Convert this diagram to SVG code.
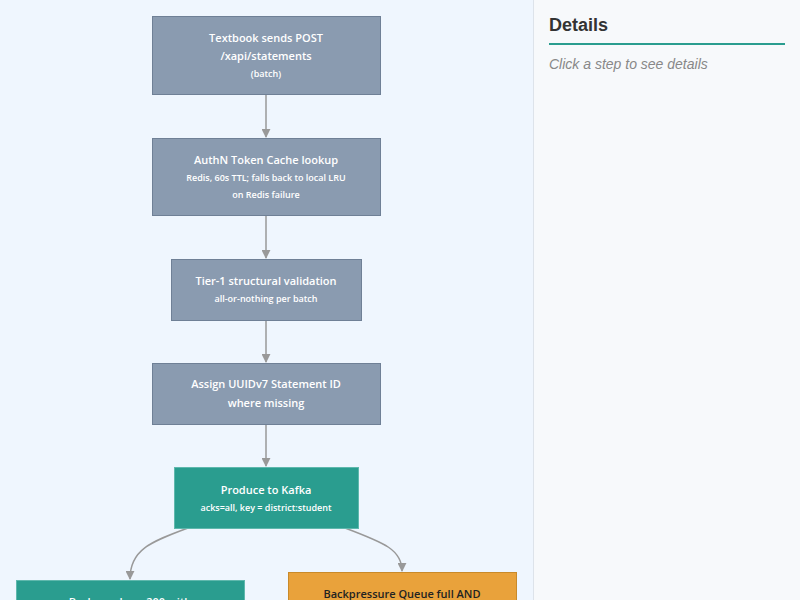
<svg xmlns="http://www.w3.org/2000/svg" width="800" height="600" viewBox="0 0 800 600">
<defs>
<style>
.n rect{stroke-width:1}
.g rect{fill:#8a9bb0;stroke:#6f8096}
.t rect{fill:#2a9d8f;stroke:#5fb8ad}
.o rect{fill:#e9a23b;stroke:#c98a2a}
text{font-family:"Open Sans","DejaVu Sans",sans-serif;text-anchor:middle}
.n text{font-weight:600}
.g text,.t text{fill:#ffffff}
.o text{fill:#222222}
.h{font-size:11px}
.s{font-size:9px}
.e path{fill:none;stroke:#999999;stroke-width:1.5}
</style>
<marker id="ah" viewBox="0 0 10 10" refX="9" refY="5" markerWidth="6" markerHeight="6" orient="auto-start-reverse">
<path d="M0,0 L10,5 L0,10 z" fill="#999999"/>
</marker>
</defs>
<rect x="0" y="0" width="533" height="600" fill="#eff6fe"/>
<rect x="533" y="0" width="267" height="600" fill="#f7f9fb"/>
<line x1="533.5" y1="0" x2="533.5" y2="600" stroke="#dde3ea" stroke-width="1"/>

<g class="e" id="connectors">
<path d="M266,94 L266,137" marker-end="url(#ah)"/>
<path d="M266,215 L266,258" marker-end="url(#ah)"/>
<path d="M266,320 L266,362" marker-end="url(#ah)"/>
<path d="M266,424 L266,466" marker-end="url(#ah)"/>
<path d="M188,528 C150,542 130,550 130,579" marker-end="url(#ah)"/>
<path d="M345,528 C385,543 402,550 402,571" marker-end="url(#ah)"/>
</g>

<g id="n1" class="n g">
<rect x="152.5" y="16.5" width="228" height="78"/>
<text class="h" x="266" y="42">Textbook sends POST</text>
<text class="h" x="266" y="60">/xapi/statements</text>
<text class="s" x="266" y="77">(batch)</text>
</g>
<g id="n2" class="n g">
<rect x="152.5" y="138.5" width="228" height="77"/>
<text class="h" x="266" y="164">AuthN Token Cache lookup</text>
<text class="s" x="266" y="181">Redis, 60s TTL; falls back to local LRU</text>
<text class="s" x="266" y="198">on Redis failure</text>
</g>
<g id="n3" class="n g">
<rect x="171.5" y="259.5" width="190" height="61"/>
<text class="h" x="266" y="285">Tier-1 structural validation</text>
<text class="s" x="266" y="302">all-or-nothing per batch</text>
</g>
<g id="n4" class="n g">
<rect x="152.5" y="363.5" width="228" height="61"/>
<text class="h" x="266" y="388">Assign UUIDv7 Statement ID</text>
<text class="h" x="266" y="407">where missing</text>
</g>
<g id="n5" class="n t">
<rect x="174.5" y="467.5" width="184" height="61"/>
<text class="h" x="266" y="494">Produce to Kafka</text>
<text class="s" x="266" y="511">acks=all, key = district:student</text>
</g>
<g id="n6" class="n t">
<rect x="16.5" y="580.5" width="228" height="40"/>
<text class="h" x="130" y="606">Broker acks → 200 with</text>
</g>
<g id="n7" class="n o">
<rect x="288.5" y="572.5" width="228" height="48"/>
<text class="h" x="402" y="598">Backpressure Queue full AND</text>
</g>

<g id="details">
<text x="549" y="31" style="font-family:'Liberation Sans',Arial,sans-serif;font-size:18px;font-weight:bold;text-anchor:start" fill="#333333">Details</text>
<line x1="549" y1="44" x2="785" y2="44" stroke="#2a9d8f" stroke-width="2"/>
<text x="549" y="69" style="font-family:'Liberation Sans',Arial,sans-serif;font-size:14px;font-style:italic;text-anchor:start" fill="#888888">Click a step to see details</text>
</g>
</svg>
